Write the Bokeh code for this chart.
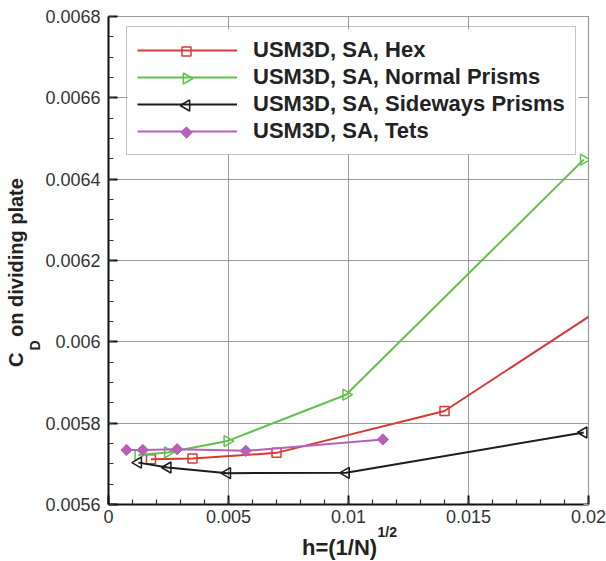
import math
from bokeh.plotting import figure
from bokeh.models import (Range1d, SingleIntervalTicker, NumeralTickFormatter, Legend,
                          LegendItem, Title, Label, LinearAxis, CustomJSTickFormatter)
from bokeh.embed import file_html
from bokeh.resources import INLINE

# ---------------- data ----------------
hex_h = [0.00177, 0.0035, 0.007, 0.014, 0.028]
hex_cd = [0.005711, 0.005713, 0.005727, 0.00583, 0.00637]

normal_h = [0.00124, 0.00247, 0.00495, 0.0099, 0.0198]
normal_cd = [0.005722, 0.005728, 0.005756, 0.00587, 0.006448]

side_h = [0.00124, 0.00247, 0.00495, 0.0099, 0.0198]
side_cd = [0.005703, 0.005691, 0.005677, 0.005678, 0.005777]

tets_h = [0.00075, 0.00143, 0.00286, 0.00572, 0.01143]
tets_cd = [0.005734, 0.005734, 0.005736, 0.005732, 0.00576]

series_names = ["USM3D, SA, Hex", "USM3D, SA, Normal Prisms",
                "USM3D, SA, Sideways Prisms", "USM3D, SA, Tets"]

X_MIN, X_MAX = 0.0, 0.02
Y_MIN, Y_MAX = 0.0056, 0.0068

# ---------------- layout ----------------
W, H = 606, 561
BL, BR, BT, BB = 108, 18, 16, 57
FW, FH = W - BL - BR, H - BT - BB

def px_x(px):
    return X_MIN + (px - BL) / FW * (X_MAX - X_MIN)

def px_y(py):
    return Y_MIN + (BT + FH - py) / FH * (Y_MAX - Y_MIN)

FONT = "Liberation Sans"

p = figure(width=W, height=H, output_backend="svg", toolbar_location=None,
           x_range=Range1d(X_MIN, X_MAX), y_range=Range1d(Y_MIN, Y_MAX + 1e-9),
           min_border_left=BL, min_border_right=BR, min_border_top=BT,
           min_border_bottom=BB, background_fill_color="white",
           border_fill_color="white")

p.outline_line_color = "#9a9a9a"
p.outline_line_width = 1.2

for ax, ticker, fmt in ((p.xaxis[0], SingleIntervalTicker(interval=0.005, num_minor_ticks=5), "0.[000]"),
                        (p.yaxis[0], SingleIntervalTicker(interval=0.0002, num_minor_ticks=4), "0.[0000]")):
    ax.ticker = ticker
    ax.formatter = NumeralTickFormatter(format=fmt)
    ax.axis_line_color = "#111111"
    ax.axis_line_width = 2
    ax.major_tick_in = 9
    ax.major_tick_out = 0
    ax.major_tick_line_width = 2
    ax.major_tick_line_color = "#111111"
    ax.minor_tick_in = 5
    ax.minor_tick_out = 0
    ax.minor_tick_line_width = 1.2
    ax.minor_tick_line_color = "#333333"
    ax.major_label_text_font = FONT
    ax.major_label_text_font_size = "18px"
    ax.major_label_text_color = "#333333"

p.yaxis[0].major_label_standoff = 8
p.xaxis[0].major_label_standoff = 5

# faint ticks on top / right (no labels)
for loc, ticker in (("above", SingleIntervalTicker(interval=0.005, num_minor_ticks=0)),
                    ("right", SingleIntervalTicker(interval=0.0002, num_minor_ticks=0))):
    a = LinearAxis(ticker=ticker, axis_line_color=None, major_tick_in=5, major_tick_out=0,
                   major_tick_line_color="#9a9a9a", minor_tick_line_color=None,
                   formatter=CustomJSTickFormatter(code="return ''"),
                   major_label_standoff=0)
    p.add_layout(a, loc)

p.grid.grid_line_color = "#9a9a9a"
p.grid.grid_line_width = 1
p.xgrid.ticker = SingleIntervalTicker(interval=0.005)
p.ygrid.ticker = SingleIntervalTicker(interval=0.0002)

RED, GREEN, BLACK, PURPLE = "#d63a36", "#62bf4c", "#1c1c1c", "#b660b8"
colors = [RED, GREEN, BLACK, PURPLE]
marker_kw = [
    dict(marker="square", size=9, angle=0.0, fill_color=None, line_width=1.5),
    dict(marker="triangle", size=11, angle=-math.pi / 2, fill_color=None, line_width=1.5),
    dict(marker="triangle", size=11, angle=math.pi / 2, fill_color=None, line_width=1.5),
    dict(marker="square", size=8, angle=math.pi / 4, fill_color=PURPLE, line_width=1),
]
series = [(hex_h, hex_cd), (normal_h, normal_cd), (side_h, side_cd), (tets_h, tets_cd)]

items = []
for (hx, cy), col, mk, name in zip(series, colors, marker_kw, series_names):
    ln = p.line(hx, cy, line_color=col, line_width=2)
    p.scatter(hx, cy, line_color=col, **mk)
    items.append(LegendItem(label=name, renderers=[ln]))

# legend geometry (screen px)
PAD, GW, LH, SP = 10, 100, 26, 1
NROWS = len(items)
LEG_H = 2 * PAD + NROWS * LH + (NROWS - 1) * SP
LEG_X, LEG_Y = 18, 349
leg_left = BL + LEG_X
leg_top = BT + FH - LEG_Y - LEG_H
leg_right = leg_left + 452

# white legend background drawn as a glyph so that the legend markers can sit above it
p.quad(left=[px_x(leg_left + 1)], right=[px_x(leg_right)],
       top=[px_y(leg_top + 1)], bottom=[px_y(leg_top + LEG_H - 1)],
       fill_color="white", line_color=None)

# legend markers, oriented like the plot markers
gx = leg_left + PAD + GW / 2
for i, (col, mk) in enumerate(zip(colors, marker_kw)):
    gy = leg_top + PAD + LH / 2 + i * (LH + SP)
    p.scatter([px_x(gx)], [px_y(gy)], line_color=col, **mk)

legend = Legend(items=items, location=(LEG_X, LEG_Y), glyph_width=GW, glyph_height=LH,
                label_height=LH, spacing=SP, label_standoff=16, padding=PAD, margin=0,
                label_text_font=FONT, label_text_font_style="bold",
                label_text_font_size="22px", label_text_color="#222222",
                border_line_color="#8a8a8a", border_line_width=1.5,
                background_fill_alpha=0)
p.add_layout(legend, "center")

# axis titles
tkw = dict(text_font=FONT, text_font_style="bold", text_color="#222222")
# y: subscript D as a label in the left side panel, then the main row
p.add_layout(Label(x=px_x(34), y=px_y(350), text="D", angle=math.pi / 2,
                   text_align="left", text_baseline="alphabetic",
                   text_font_size="14px", **tkw), "left")
p.add_layout(Title(text="C\u2002 on dividing plate", align="left", offset=137.5,
                   standoff=0, text_font_size="20px", **tkw), "left")
# x: superscript row then main row
p.add_layout(Title(text="1/2", align="left", offset=269, standoff=-8,
                   text_font_size="14px", **tkw), "below")
p.add_layout(Title(text="h=(1/N)", align="left", offset=193.5, standoff=-6,
                   text_font_size="22px", **tkw), "below")

open("out.html", "w").write(file_html(p, INLINE))
